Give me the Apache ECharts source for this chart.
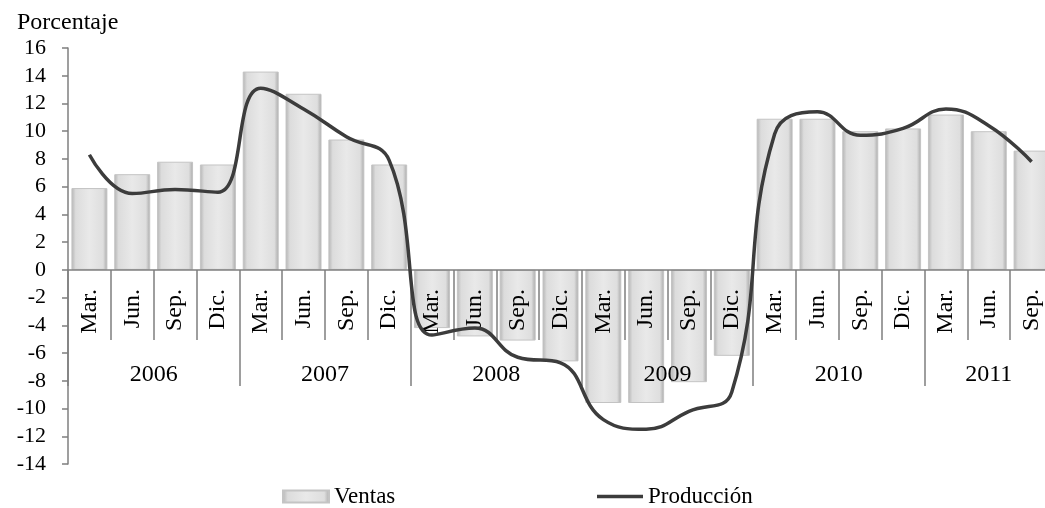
<!DOCTYPE html>
<html>
<head>
<meta charset="utf-8">
<title>Ventas y Producción</title>
<script src="https://cdn.jsdelivr.net/npm/echarts@6/dist/echarts.min.js"></script>
<style>
  html, body { margin: 0; padding: 0; background: #fff; }
  #chart { width: 1045px; height: 508px; }
</style>
</head>
<body>
<div id="chart"></div>
<script>
  // trimestres (eje x)
  const quarters = [
    'Mar.', 'Jun.', 'Sep.', 'Dic.',
    'Mar.', 'Jun.', 'Sep.', 'Dic.',
    'Mar.', 'Jun.', 'Sep.', 'Dic.',
    'Mar.', 'Jun.', 'Sep.', 'Dic.',
    'Mar.', 'Jun.', 'Sep.', 'Dic.',
    'Mar.', 'Jun.', 'Sep.'
  ]
  const years = ['2006', '2007', '2008', '2009', '2010', '2011']
  const quartersPerYear = [4, 4, 4, 4, 4, 3]

  const ventas = [
    5.9, 6.9, 7.8, 7.6,
    14.3, 12.7, 9.4, 7.6,
    -4.2, -4.8, -5.1, -6.6,
    -9.6, -9.6, -8.1, -6.2,
    10.9, 10.9, 10.0, 10.2,
    11.2, 10.0, 8.6
  ]
  const produccion = [
    8.3, 5.5, 5.8, 5.6,
    13.1, 11.6, 9.6, 7.9,
    -4.7, -4.2, -6.3, -6.7,
    -10.8, -11.5, -10.2, -8.8,
    9.8, 11.4, 9.7, 10.2,
    11.6, 10.4, 7.8
  ]

  const yMin = -14
  const yMax = 16
  const yStep = 2

  // posiciones de separadores y etiquetas de año en unidades de categoria
  const yearBounds = []
  const yearCenters = []
  let acc = 0
  quartersPerYear.forEach(n => {
    yearBounds.push(acc)
    yearCenters.push(acc + n / 2)
    acc += n
  })
  // separadores entre trimestres
  const quarterBounds = quarters.map((q, i) => i)

  const font = 'Liberation Serif'
  const grey = '#7f7f7f'

  // grid: 16 -> y=48, -14 -> y=464, el eje x va en el 0
  const gridTop = 48
  const gridBottom = 44
  const plotH = 508 - gridTop - gridBottom
  const zeroOffset = -Math.round(plotH * (0 - yMin) / (yMax - yMin))

  const chart = echarts.init(document.getElementById('chart'), null, { renderer: 'canvas' })

  const barColor = new echarts.graphic.LinearGradient(0, 0, 1, 0, [
    { offset: 0, color: '#b3b3b3' },
    { offset: 0.12, color: '#dcdcdc' },
    { offset: 0.5, color: '#e9e9e9' },
    { offset: 0.88, color: '#dedede' },
    { offset: 1, color: '#a8a8a8' }
  ])

  chart.setOption({
    animation: false,
    title: {
      text: 'Porcentaje',
      left: 12,
      top: 6,
      textStyle: { fontFamily: font, fontSize: 24, fontWeight: 'normal', color: '#000' }
    },
    legend: [
      {
        data: [{ name: 'Ventas', icon: 'rect' }],
        left: 277,
        top: 480,
        itemWidth: 46,
        itemHeight: 12,
        textStyle: { fontFamily: font, fontSize: 23, color: '#000' }
      },
      {
        data: [{ name: 'Producción', icon: 'rect' }],
        left: 592,
        top: 480,
        itemWidth: 46,
        itemHeight: 3.5,
        textStyle: { fontFamily: font, fontSize: 23, color: '#000' }
      }
    ],
    grid: {
      left: 68,
      right: -8,
      top: gridTop,
      bottom: gridBottom,
      containLabel: false,
      outerBoundsMode: 'none'
    },
    xAxis: [
      {
        type: 'category',
        data: quarters,
        position: 'bottom',
        offset: zeroOffset,
        z: 3,
        axisLine: { onZero: false, lineStyle: { color: grey, width: 1.5 } },
        axisTick: { show: false },
        axisLabel: {
          interval: 0,
          rotate: 90,
          margin: 19,
          fontFamily: font,
          fontSize: 24,
          color: '#000'
        }
      },
      {
        // separadores de trimestre y etiquetas de año
        type: 'value',
        position: 'bottom',
        min: 0,
        max: quarters.length,
        offset: zeroOffset,
        z: 3,
        axisLine: { show: false, onZero: false },
        splitLine: { show: false },
        axisTick: {
          show: true,
          length: 70,
          customValues: quarterBounds,
          lineStyle: { color: grey, width: 1.5 }
        },
        axisLabel: {
          customValues: yearCenters,
          margin: 93,
          fontFamily: font,
          fontSize: 24,
          color: '#000',
          formatter: v => years[yearCenters.indexOf(v)] || ''
        }
      },
      {
        // separadores de año (mas largos)
        type: 'value',
        position: 'bottom',
        min: 0,
        max: quarters.length,
        offset: zeroOffset,
        z: 3,
        axisLine: { show: false, onZero: false },
        splitLine: { show: false },
        axisTick: {
          show: true,
          length: 116,
          customValues: yearBounds,
          lineStyle: { color: grey, width: 1.5 }
        },
        axisLabel: { show: false }
      }
    ],
    yAxis: {
      type: 'value',
      min: yMin,
      max: yMax,
      interval: yStep,
      axisLine: { show: true, lineStyle: { color: grey, width: 1.5 } },
      axisTick: { show: true, length: 6, lineStyle: { color: grey, width: 1.5 } },
      splitLine: { show: false },
      axisLabel: {
        margin: 22,
        fontFamily: font,
        fontSize: 22,
        color: '#000'
      }
    },
    series: [
      {
        name: 'Ventas',
        type: 'bar',
        data: ventas,
        barCategoryGap: '16%',
        z: 2,
        itemStyle: {
          color: barColor,
          borderColor: '#c4c4c4',
          borderWidth: 1
        }
      },
      {
        name: 'Producción',
        type: 'line',
        data: produccion,
        smooth: 0.45,
        showSymbol: false,
        symbol: 'none',
        z: 5,
        lineStyle: { color: '#3c3c3c', width: 3.5 },
        itemStyle: { color: '#3c3c3c' }
      }
    ]
  })
</script>
</body>
</html>
